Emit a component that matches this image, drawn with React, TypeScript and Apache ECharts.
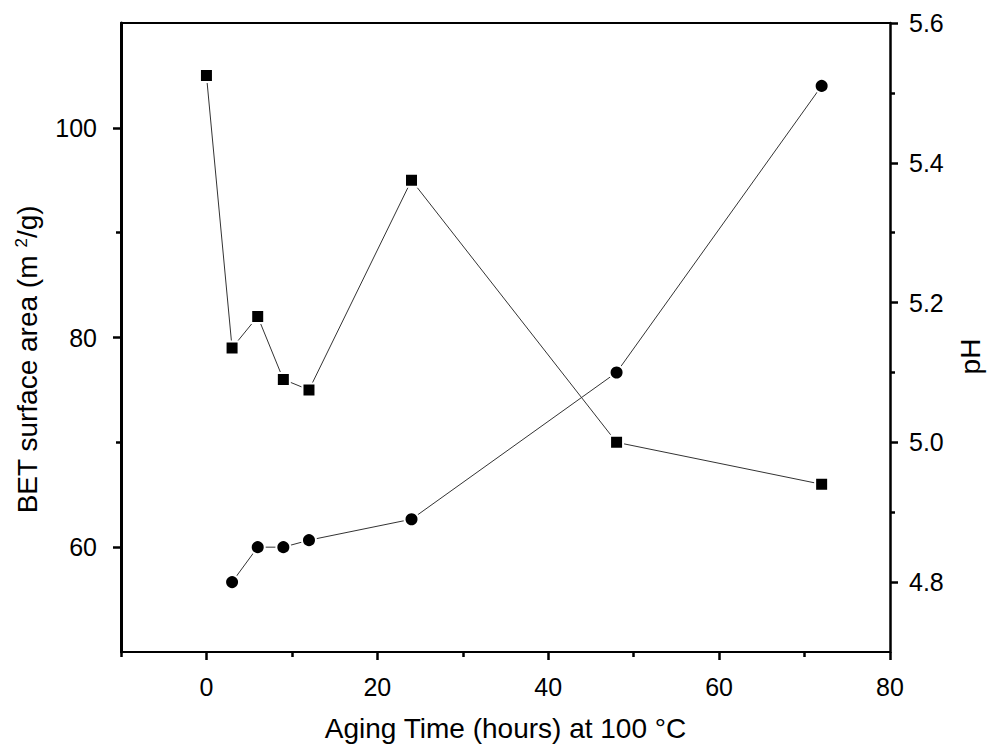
import React, { useEffect, useRef } from "react";
import * as echarts from "echarts";

// Aging time (hours) for each measurement
const timeBET = [0, 3, 6, 9, 12, 24, 48, 72];
const betArea = [105, 79, 82, 76, 75, 95, 70, 66];
const timePH = [3, 6, 9, 12, 24, 48, 72];
const phValues = [4.8, 4.85, 4.85, 4.86, 4.89, 5.1, 5.51];

// Tick positions
const xMajor = [0, 20, 40, 60, 80];
const xMinor = [-10, 10, 30, 50, 70];
const betMajor = [60, 80, 100];
const betMinor = [70, 90];
const phMajor = [4.8, 5.0, 5.2, 5.4, 5.6];
const phMinor = [4.9, 5.1, 5.3, 5.5];

const FONT = "'Liberation Sans', Arial, sans-serif";
const INK = "#000";

export default function App() {
  const ref = useRef<HTMLDivElement>(null);

  useEffect(() => {
    if (!ref.current) return;
    const chart = echarts.init(ref.current, null, { renderer: "svg" });

    const labelStyle = { color: INK, fontFamily: FONT, fontSize: 25 };
    const tickLine = { color: INK, width: 2.5 };

    chart.setOption({
      animation: false,
      backgroundColor: "#fff",
      grid: { left: 121, right: 98, top: 23, bottom: 93, containLabel: false, outerBoundsMode: "none" },
      xAxis: [
        {
          type: "value",
          min: -10,
          max: 80,
          interval: 10,
          position: "bottom",
          name: "Aging Time (hours) at 100 °C",
          nameLocation: "middle",
          nameGap: 62,
          nameTextStyle: { color: INK, fontFamily: FONT, fontSize: 28 },
          axisLine: { show: true, onZero: false, lineStyle: { color: INK, width: 2 } },
          axisTick: { show: true, customValues: xMajor, length: 8, lineStyle: tickLine },
          axisLabel: { ...labelStyle, customValues: xMajor, margin: 22 },
          splitLine: { show: false },
        },
        {
          type: "value",
          min: -10,
          max: 80,
          interval: 10,
          position: "bottom",
          offset: 0,
          axisLine: { show: false, onZero: false },
          axisTick: { show: true, customValues: xMinor, length: 5, lineStyle: tickLine },
          axisLabel: { show: false },
          splitLine: { show: false },
        },
        {
          type: "value",
          min: -10,
          max: 80,
          position: "top",
          axisLine: { show: true, onZero: false, lineStyle: { color: INK, width: 2 } },
          axisTick: { show: false },
          axisLabel: { show: false },
          splitLine: { show: false },
        },
      ],
      yAxis: [
        {
          type: "value",
          min: 50,
          max: 110,
          interval: 10,
          position: "left",
          name: "{a|BET surface area (m }{s|2}{a|/g)}",
          nameLocation: "middle",
          nameGap: 80,
          nameTextStyle: {
            color: INK,
            fontFamily: FONT,
            fontSize: 28,
            padding: [0, 44, 0, 0],
            rich: {
              a: { color: INK, fontFamily: FONT, fontSize: 28 },
              s: { color: INK, fontFamily: FONT, fontSize: 17, verticalAlign: "top", padding: [0, 0, 10, 0] },
            },
          },
          axisLine: { show: true, onZero: false, lineStyle: { color: INK, width: 3 } },
          axisTick: { show: true, customValues: betMajor, length: 8, lineStyle: tickLine },
          axisLabel: { ...labelStyle, customValues: betMajor, margin: 24 },
          splitLine: { show: false },
        },
        {
          type: "value",
          min: 4.7,
          max: 5.6,
          interval: 0.1,
          position: "right",
          name: "pH",
          nameLocation: "middle",
          nameGap: 66,
          nameTextStyle: { color: INK, fontFamily: FONT, fontSize: 28, padding: [0, 38, 0, 0] },
          axisLine: { show: true, onZero: false, lineStyle: { color: INK, width: 2.5 } },
          axisTick: { show: true, customValues: phMajor, length: 8, lineStyle: tickLine },
          axisLabel: {
            ...labelStyle,
            customValues: phMajor,
            margin: 19,
            formatter: (v: number) => v.toFixed(1),
          },
          splitLine: { show: false },
        },
        {
          type: "value",
          min: 50,
          max: 110,
          interval: 10,
          position: "left",
          offset: 0,
          axisLine: { show: false, onZero: false },
          axisTick: { show: true, customValues: betMinor, length: 5, lineStyle: tickLine },
          axisLabel: { show: false },
          splitLine: { show: false },
        },
        {
          type: "value",
          min: 4.7,
          max: 5.6,
          interval: 0.1,
          position: "right",
          offset: 0,
          axisLine: { show: false, onZero: false },
          axisTick: { show: true, customValues: phMinor, length: 5, lineStyle: tickLine },
          axisLabel: { show: false },
          splitLine: { show: false },
        },
      ],
      series: [
        {
          name: "BET surface area",
          type: "line",
          xAxisIndex: 0,
          yAxisIndex: 0,
          data: timeBET.map((t, i) => [t, betArea[i]]),
          symbol: "rect",
          symbolSize: 13,
          showAllSymbol: true,
          lineStyle: { color: "#333", width: 1 },
          itemStyle: { color: INK, borderColor: "#fff", borderWidth: 2 },
          z: 3,
        },
        {
          name: "pH",
          type: "line",
          xAxisIndex: 0,
          yAxisIndex: 1,
          data: timePH.map((t, i) => [t, phValues[i]]),
          symbol: "circle",
          symbolSize: 14,
          showAllSymbol: true,
          lineStyle: { color: "#333", width: 1 },
          itemStyle: { color: INK, borderColor: "#fff", borderWidth: 2 },
          z: 3,
        },
      ],
    });

    return () => chart.dispose();
  }, []);

  return <div ref={ref} style={{ width: 988, height: 745, position: "absolute", left: 0, top: 0 }} />;
}
